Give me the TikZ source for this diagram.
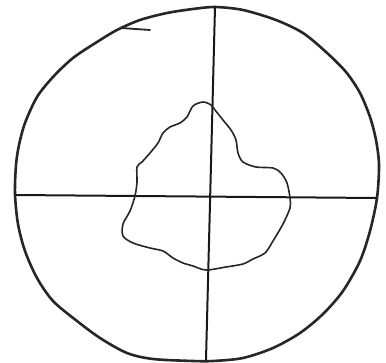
\documentclass[tikz,border=0pt]{standalone}
\usetikzlibrary{calc}
\tikzset{
  rim/.style={draw=black!85,line width=2.6pt,line cap=round,line join=round},
  axis/.style={draw=black!90,line width=2pt,line cap=round},
  blob/.style={draw=black!85,line width=1.6pt,line join=round},
}

\begin{document}
\begin{tikzpicture}[x=1pt,y=-1pt]
  \useasboundingbox (0,0) rectangle (386,363);

  % outer hand-drawn circle
  \draw[rim] plot[smooth cycle] coordinates {
    (215,7) (243,10) (276,20) (303,33) (326,52) (346,72) (360,93)
    (370,117) (376,140) (379,165) (377,198) (370,231) (360,261) (343,291)
    (323,314) (300,333) (273,348) (243,358) (213,361) (193,361) (153,359)
    (127,353) (100,338) (77,321) (53,301) (37,278) (25,251) (18,224)
    (15,194) (16,165) (19,145) (25,123) (37,97) (53,77) (73,58) (97,42)
    (117,30) (140,20) (167,13) (193,9)};
  % small tail where the stroke started
  \coordinate (t0) at (121,28);
  \coordinate (t1) at (150,30);
  \draw[rim,line width=1.8pt] (t0) -- (t1);

  % cross lines
  \coordinate (vt) at (215,7);
  \coordinate (vb) at (206,360);
  \coordinate (hl) at (15,195);
  \coordinate (hr) at (376,198);
  \draw[axis] (vt) -- (vb);
  \draw[axis] (hl) -- (hr);

  % irregular central region
  \draw[blob] plot[smooth cycle,tension=0.5] coordinates {
    (203,102) (211,105) (215,110) (223,120) (231,130) (236,140) (238,153)
    (243,162) (256,167) (273,168) (281,173) (287,183) (290,198) (290,208)
    (283,224) (273,241) (265,253) (253,259) (243,264) (226,267) (206,270)
    (193,266) (183,263) (173,258) (163,251) (150,248) (133,243) (123,236)
    (123,224) (130,211) (135,196) (137,182) (137,167) (142,162) (150,153)
    (158,143) (163,133) (170,127) (180,123) (187,117) (193,106)};
\end{tikzpicture}
\end{document}
